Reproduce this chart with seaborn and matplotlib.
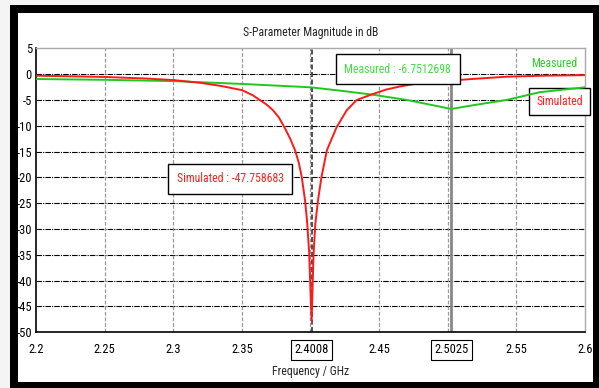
import matplotlib
matplotlib.use("Agg")
import matplotlib.pyplot as plt
import seaborn as sns
import pandas as pd
from matplotlib.patches import Rectangle

# ---- data ----
sim_freq = [2.20, 2.22, 2.25, 2.28, 2.30, 2.32, 2.335, 2.35, 2.358, 2.363, 2.368,
            2.3727, 2.377, 2.381, 2.385, 2.3887, 2.3915, 2.3936, 2.396, 2.3975,
            2.399, 2.4008, 2.4022, 2.4035, 2.4055, 2.408, 2.412, 2.419, 2.4264,
            2.4337, 2.445, 2.455, 2.465, 2.477, 2.49, 2.50, 2.52, 2.543, 2.57, 2.60]
sim_db = [-0.3, -0.4, -0.55, -0.85, -1.15, -1.7, -2.3, -3.1, -4.1, -5.0, -5.9,
          -7.0, -8.4, -10.3, -12.4, -14.7, -17.2, -19.9, -24.4, -28.5,
          -34.5, -47.76, -35.0, -29.0, -24.4, -19.9, -14.7, -10.3, -7.0,
          -5.0, -3.9, -3.0, -2.4, -1.85, -1.5, -1.3, -0.9, -0.5, -0.3, -0.2]

meas_freq = [2.20, 2.25, 2.30, 2.35, 2.40, 2.4215, 2.4458, 2.47, 2.485, 2.5025,
             2.519, 2.543, 2.567, 2.60]
meas_db = [-0.95, -1.1, -1.35, -1.9, -2.55, -3.2, -4.0, -5.0, -5.8, -6.75,
           -6.0, -5.0, -3.5, -2.55]

xtick_vals = [2.2, 2.25, 2.3, 2.35, 2.4008, 2.45, 2.5025, 2.55, 2.6]
xtick_labels = ["2.2", "2.25", "2.3", "2.35", "2.4008", "2.45", "2.5025", "2.55", "2.6"]
ytick_vals = [5, 0, -5, -10, -15, -20, -25, -30, -35, -40, -45, -50]

title = "S-Parameter Magnitude in dB"
xlabel = "Frequency / GHz"
marker_sim = (2.4008, -47.758683)
marker_meas = (2.5025, -6.7512698)

# ---- figure ----
sns.set_style("white")
plt.rcParams['font.family'] = ['Roboto Condensed', 'Liberation Sans Narrow',
                               'Roboto', 'DejaVu Sans']

fig = plt.figure(figsize=(5.99, 3.88), dpi=100)
fig.patch.set_facecolor("#f4f4f4")
W, H = 599, 388
fig.add_artist(Rectangle((10 / W, 0), 589 / W, (H - 5) / H, transform=fig.transFigure,
                         facecolor="black", edgecolor="none", zorder=0))
fig.add_artist(Rectangle((18 / W, 6 / H), (593 - 18) / W, (382 - 13) / H,
                         transform=fig.transFigure, facecolor="white",
                         edgecolor="none", zorder=0))

ax = fig.add_axes([36 / W, 1 - 332.3 / H, 549 / W, (332.3 - 48.3) / H])
ax.set_facecolor("white")

df = pd.concat([
    pd.DataFrame({"freq": meas_freq, "db": meas_db, "series": "Measured"}),
    pd.DataFrame({"freq": sim_freq, "db": sim_db, "series": "Simulated"}),
])
sns.lineplot(data=df, x="freq", y="db", hue="series",
             palette={"Measured": "#1ec81e", "Simulated": "#ff1a1a"},
             linewidth=1.4, legend=False, ax=ax, sort=False, zorder=5)

ax.set_xlim(2.2, 2.6)
ax.set_ylim(-50, 5)
ax.set_yticks(ytick_vals)
ax.set_yticklabels([str(v) for v in ytick_vals])
ax.set_xticks(xtick_vals)
ax.set_xticklabels(xtick_labels)

# grid
for yv in ytick_vals[1:-1]:
    ax.axhline(yv, color="black", lw=0.8, ls=(0, (5, 1, 1, 1)), zorder=1)
for xv in [2.25, 2.3, 2.35, 2.4, 2.45, 2.5, 2.55]:
    ax.axvline(xv, color="#999999", lw=0.9, ls=(0, (3, 1.5)), zorder=1)
ax.axvline(marker_sim[0], color="#333333", lw=1.2, ls=(0, (3, 1.5)), zorder=2)
ax.axvline(marker_meas[0], color="#888888", lw=2.0, zorder=2)

for s in ["top", "right"]:
    ax.spines[s].set_color("#aaaaaa")
    ax.spines[s].set_linewidth(1.0)
for s in ["left", "bottom"]:
    ax.spines[s].set_color("black")
    ax.spines[s].set_linewidth(1.2)

ax.tick_params(axis="both", labelsize=9, colors="black", length=2, width=0.8,
               direction="out", pad=1)
ax.tick_params(axis="x", pad=6)
for lab in ax.get_xticklabels():
    if lab.get_text() in ("2.4008", "2.5025"):
        lab.set_bbox(dict(facecolor="white", edgecolor="black", lw=0.8, pad=2.5))

ax.set_xlabel(xlabel, fontsize=8.5, labelpad=6)
ax.set_ylabel("")
ax.set_title(title, fontsize=8.5, pad=9)

# legend-like texts
ax.text(0.985, 0.948, "Measured", color="#33cc33", fontsize=8.5,
        ha="right", va="center", transform=ax.transAxes)
ax.text(0.9536, 0.813, "Simulated", color="#ff2020", fontsize=8.5,
        ha="center", va="center", transform=ax.transAxes,
        bbox=dict(facecolor="white", edgecolor="black", lw=1.0, pad=5))

# marker annotations
ax.text(0.659, 0.927, "Measured : %.7f" % marker_meas[1], color="#44dd44",
        fontsize=8.5, ha="center", va="center", transform=ax.transAxes,
        bbox=dict(facecolor="white", edgecolor="black", lw=1.0, pad=6), zorder=6)
ax.text(0.3534, 0.54, "Simulated : %.6f" % marker_sim[1], color="#ff2020",
        fontsize=8.5, ha="center", va="center", transform=ax.transAxes,
        bbox=dict(facecolor="white", edgecolor="black", lw=1.0, pad=6), zorder=6)

fig.savefig("out.png", dpi=100, facecolor=fig.get_facecolor())
